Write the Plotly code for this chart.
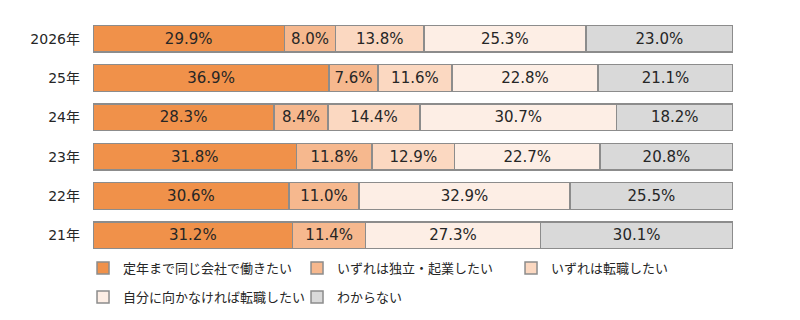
import plotly.graph_objects as go

years = ["2026年", "25年", "24年", "23年", "22年", "21年"]
series_names = ["定年まで同じ会社で働きたい", "いずれは独立・起業したい", "いずれは転職したい",
                "自分に向かなければ転職したい", "わからない"]
s1 = [29.9, 36.9, 28.3, 31.8, 30.6, 31.2]
s2 = [8.0, 7.6, 8.4, 11.8, 11.0, 11.4]
s3 = [13.8, 11.6, 14.4, 12.9, None, None]
s4 = [25.3, 22.8, 30.7, 22.7, 32.9, 27.3]
s5 = [23.0, 21.1, 18.2, 20.8, 25.5, 30.1]
colors = ["#F0914A", "#F6B88E", "#FBD8C1", "#FDEEE5", "#D9D9D9"]
legend_ids = ["legend", "legend", "legend", "legend2", "legend2"]

FONT = "DejaVu Sans, Noto Sans CJK JP"
LFONT = "Noto Sans CJK JP"

fig = go.Figure()
for name, vals, c, lg in zip(series_names, [s1, s2, s3, s4, s5], colors, legend_ids):
    fig.add_trace(go.Bar(
        y=years, x=vals, name=name, orientation="h", legend=lg,
        marker=dict(color=c, line=dict(color="#8C8C8C", width=1.5)),
        text=[(f"{v:.1f}%" if v is not None else "") for v in vals],
        textposition="inside", insidetextanchor="middle",
        textfont=dict(size=15, color="#262626", family=FONT),
        constraintext="none",
        width=0.68,
    ))

legend_common = dict(orientation="h", xanchor="left", yanchor="middle",
                     entrywidth=169, entrywidthmode="pixels", traceorder="normal",
                     font=dict(size=13, color="#262626", family=LFONT), itemwidth=30,
                     bgcolor="rgba(0,0,0,0)")

fig.update_layout(
    width=800, height=320, barmode="stack",
    margin=dict(l=93, r=67, t=19, b=65, autoexpand=False),
    paper_bgcolor="white", plot_bgcolor="white",
    font=dict(family=FONT, size=14, color="#262626"),
    xaxis=dict(range=[0, 100], visible=False, fixedrange=True),
    yaxis=dict(autorange="reversed", showgrid=False, ticks="", showline=False,
               tickfont=dict(size=14, color="#262626", family=FONT), ticklabelstandoff=12),
    showlegend=True,
    legend=dict(x=-0.0156, y=-0.055, **legend_common),
    legend2=dict(x=-0.0156, y=-0.178, **legend_common),
)
fig.write_html("out.html")
